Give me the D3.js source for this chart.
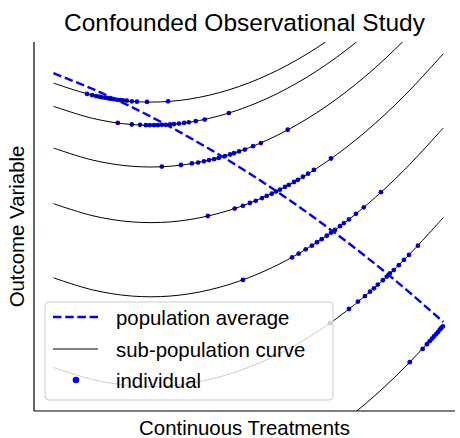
<!DOCTYPE html>
<html>
<head>
<meta charset="utf-8">
<script src="https://cdn.jsdelivr.net/npm/d3@7"></script>
<style>
    body { margin: 0; background: #fff; }
    text { font-family: "Liberation Sans", Arial, Helvetica, sans-serif; fill: #000; }
</style>
</head>
<body>
<div id="chart"></div>
<script>
// treatment values where the curves were read
const curveX = [0, 1, 2, 3, 4, 5, 6, 7, 8, 9, 10];

// sub-population curves, outcome read at each curveX
const curveA = [106.1, 102.2, 100.2, 100.2, 102.2, 106.1, 111.9, 119.6, 129.3, 141.0, 154.6];
const curveB = [98.6, 94.7, 92.7, 92.7, 94.7, 98.6, 104.4, 112.1, 121.8, 133.5, 147.1];
const curveC = [85.1, 81.2, 79.2, 79.2, 81.2, 85.1, 90.9, 98.6, 108.3, 120.0, 133.6];
const curveD = [67.1, 63.2, 61.2, 61.2, 63.2, 67.1, 72.9, 80.6, 90.3, 102.0, 115.6];
const curveE = [43.1, 39.2, 37.2, 37.2, 39.2, 43.1, 48.9, 56.6, 66.3, 78.0, 91.6];
const curveF = [14.1, 10.2, 8.2, 8.2, 10.2, 14.1, 19.9, 27.6, 37.3, 49.0, 62.6];
const curveG = [-20.9, -24.8, -26.8, -26.8, -24.8, -20.9, -15.1, -7.4, 2.3, 14.0, 27.6];

// population average, read at each curveX
const populationAverage = [109.3, 104.2, 98.4, 91.9, 84.8, 77.1, 68.7, 59.7, 50.1, 39.8, 28.8];

// individuals [treatment, outcome], one array per sub-population
const dotsA = [[0.86, 102.6], [0.99, 102.2], [1.09, 101.9], [1.17, 101.7], [1.24, 101.5], [1.32, 101.4],
    [1.40, 101.2], [1.47, 101.0], [1.55, 100.9], [1.63, 100.7], [1.71, 100.6], [1.78, 100.5],
    [1.88, 100.4], [2.01, 100.2], [2.14, 100.1], [2.40, 100.0], [2.94, 100.2]];
const dotsB = [[1.65, 93.2], [2.01, 92.7], [2.22, 92.6], [2.37, 92.5], [2.47, 92.5], [2.58, 92.5],
    [2.68, 92.5], [2.78, 92.6], [2.88, 92.6], [2.99, 92.7], [3.09, 92.8], [3.22, 93.0],
    [3.35, 93.2], [3.47, 93.4], [3.65, 93.8], [3.88, 94.3], [4.50, 96.4]];
const dotsC = [[2.78, 79.1], [3.27, 79.6], [3.55, 80.1], [3.71, 80.4], [3.86, 80.8], [3.99, 81.2],
    [4.12, 81.5], [4.24, 81.9], [4.40, 82.5], [4.53, 83.0], [4.63, 83.4], [4.76, 84.0],
    [4.91, 84.6], [5.12, 85.7], [5.32, 86.7], [6.01, 91.0]];
const dotsD = [[3.96, 63.1], [4.65, 65.5], [4.86, 66.4], [5.04, 67.3], [5.19, 68.0], [5.35, 68.9],
    [5.47, 69.6], [5.60, 70.3], [5.71, 71.0], [5.81, 71.6], [5.94, 72.5], [6.04, 73.2],
    [6.17, 74.1], [6.27, 74.8], [6.40, 75.8], [6.53, 76.8], [6.68, 78.0], [7.12, 81.7]];
const dotsE = [[4.86, 42.4], [6.12, 49.7], [6.29, 50.9], [6.47, 52.3], [6.63, 53.5], [6.76, 54.6],
    [6.88, 55.6], [7.01, 56.7], [7.12, 57.7], [7.22, 58.6], [7.35, 59.8], [7.45, 60.8],
    [7.58, 62.0], [7.76, 63.8], [7.96, 65.9], [8.40, 70.8]];
const dotsF = [[7.09, 28.4], [7.58, 33.0], [7.81, 35.4], [7.99, 37.2], [8.12, 38.6], [8.22, 39.7],
    [8.32, 40.9], [8.45, 42.3], [8.55, 43.5], [8.63, 44.5], [8.73, 45.6], [8.86, 47.2],
    [8.99, 48.9], [9.12, 50.5], [9.35, 53.5]];
const dotsG = [[9.14, 15.8], [9.47, 20.1], [9.58, 21.6], [9.65, 22.6], [9.71, 23.4], [9.76, 24.1],
    [9.81, 24.8], [9.86, 25.5], [9.91, 26.3], [9.94, 26.7], [9.96, 27.0], [9.99, 27.4]];

const legendLabels = ['population average', 'sub-population curve', 'individual'];

const width = 460;
const height = 438;
const plot = { left: 34, right: 455, top: 42, bottom: 411 };

const svg = d3.select('#chart')
    .append('svg')
    .attr('width', width)
    .attr('height', height);

const x = d3.scaleLinear().domain([-0.5, 10.3]).range([plot.left, plot.right]);
const y = d3.scaleLinear().domain([0, 119.4]).range([plot.bottom, plot.top]);

svg.append('clipPath')
    .attr('id', 'plot-clip')
    .append('rect')
    .attr('x', plot.left)
    .attr('y', plot.top)
    .attr('width', plot.right - plot.left)
    .attr('height', plot.bottom - plot.top);

const area = svg.append('g').attr('clip-path', 'url(#plot-clip)');

const line = d3.line()
    .x((d, i) => x(curveX[i]))
    .y(d => y(d))
    .curve(d3.curveCatmullRom.alpha(0.5));

// individuals sit below the lines
const allDots = [dotsA, dotsB, dotsC, dotsD, dotsE, dotsF, dotsG].flat();
area.selectAll('.individual')
    .data(allDots)
    .enter().append('circle')
    .attr('class', 'individual')
    .attr('cx', d => x(d[0]))
    .attr('cy', d => y(d[1]))
    .attr('r', 2.4)
    .attr('fill', '#0000ff');

area.selectAll('.sub-curve')
    .data([curveA, curveB, curveC, curveD, curveE, curveF, curveG])
    .enter().append('path')
    .attr('class', 'sub-curve')
    .attr('d', line)
    .attr('fill', 'none')
    .attr('stroke', '#000')
    .attr('stroke-width', 1);

area.append('path')
    .attr('d', line(populationAverage))
    .attr('fill', 'none')
    .attr('stroke', '#0000ff')
    .attr('stroke-width', 2.4)
    .attr('stroke-dasharray', '8.5,3.7');

// spines (no ticks)
svg.append('line')
    .attr('x1', plot.left).attr('x2', plot.left)
    .attr('y1', plot.top).attr('y2', plot.bottom)
    .attr('stroke', '#000').attr('stroke-width', 1.2);
svg.append('line')
    .attr('x1', plot.left).attr('x2', plot.right)
    .attr('y1', plot.bottom).attr('y2', plot.bottom)
    .attr('stroke', '#000').attr('stroke-width', 1.2);

svg.append('text')
    .attr('x', (plot.left + plot.right) / 2)
    .attr('y', 31)
    .attr('text-anchor', 'middle')
    .style('font-size', '24.5px')
    .text('Confounded Observational Study');

svg.append('text')
    .attr('x', (plot.left + plot.right) / 2)
    .attr('y', 434.5)
    .attr('text-anchor', 'middle')
    .style('font-size', '20.4px')
    .text('Continuous Treatments');

svg.append('text')
    .attr('transform', `translate(24, ${(plot.top + plot.bottom) / 2}) rotate(-90)`)
    .attr('text-anchor', 'middle')
    .style('font-size', '20.4px')
    .text('Outcome Variable');

// legend
const legend = svg.append('g').attr('transform', 'translate(45, 302)');
legend.append('rect')
    .attr('width', 288)
    .attr('height', 98)
    .attr('rx', 4)
    .attr('fill', '#fff')
    .attr('fill-opacity', 0.8)
    .attr('stroke', '#cccccc')
    .attr('stroke-width', 1);

const rowY = [15, 47, 78];
legend.append('line')
    .attr('x1', 8).attr('x2', 53)
    .attr('y1', rowY[0]).attr('y2', rowY[0])
    .attr('stroke', '#0000ff').attr('stroke-width', 2.4)
    .attr('stroke-dasharray', '8.5,3.7');
legend.append('line')
    .attr('x1', 8).attr('x2', 53)
    .attr('y1', rowY[1]).attr('y2', rowY[1])
    .attr('stroke', '#000').attr('stroke-width', 1);
legend.append('circle')
    .attr('cx', 31).attr('cy', rowY[2])
    .attr('r', 3.3)
    .attr('fill', '#0000ff');

legend.selectAll('.legend-label')
    .data(legendLabels)
    .enter().append('text')
    .attr('class', 'legend-label')
    .attr('x', 71)
    .attr('y', (d, i) => rowY[i] + 7.5)
    .style('font-size', '20.4px')
    .text(d => d);
</script>
</body>
</html>
